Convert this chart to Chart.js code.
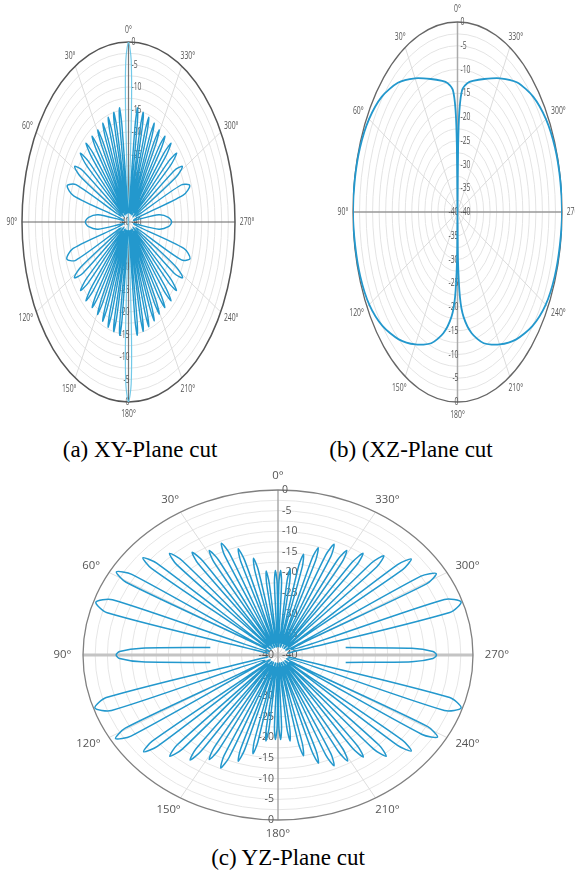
<!DOCTYPE html>
<html>
<head>
<meta charset="utf-8">
<script src="https://cdn.jsdelivr.net/npm/chart.js@4.4.1/dist/chart.umd.min.js"></script>
<style>
  html, body { margin: 0; padding: 0; background: #fff; }
  body { width: 575px; height: 877px; position: relative; overflow: hidden; }
  canvas { position: absolute; }
  .cap { position: absolute; font-family: "Liberation Serif", "Times New Roman", serif; font-size: 23px;
         color: #000; white-space: nowrap; transform: translateX(-50%); line-height: 1; }
</style>
</head>
<body>
<canvas id="xy" width="262" height="432" style="left:0;top:0"></canvas>
<canvas id="xz" width="285" height="432" style="left:290px;top:0"></canvas>
<canvas id="yz" width="540" height="380" style="left:20px;top:462px"></canvas>
<div class="cap" style="left:140px;top:438px">(a) XY-Plane cut</div>
<div class="cap" style="left:411px;top:438px">(b) (XZ-Plane cut</div>
<div class="cap" style="left:288px;top:846px">(c) YZ-Plane cut</div>
<script>
// ---- radial (dB) axis ----
const RING_MIN = -40, RING_MAX = 0, RING_STEP = 2.5;
const tickValues = [0, -5, -10, -15, -20, -25, -30, -35, -40];
const upperTickLabels = ['0', '-5', '-10', '-15', '-20', '-25', '-30', '-35', '-40'];
const lowerTickLabels = ['0', '-5', '-10', '-15', '-20', '-25', '-30', '-35', '-40'];

// ---- angular axis (degrees, counter-clockwise from the top) ----
const angleStops  = [0, 30, 60, 90, 120, 150, 180, 210, 240, 270, 300, 330];
const angleLabels = ['0°', '30°', '60°', '90°', '120°', '150°', '180°', '210°', '240°', '270°', '300°', '330°'];

// ---- (a) XY-plane: [angle deg, gain dB] ----
const xyMainBeam = [
  [356.5, -38], [357.4, -16], [358.4, -4], [0, 0], [1.6, -4], [2.6, -16], [3.5, -38],
  [176.5, -38], [177.4, -16], [178.4, -4], [180, 0], [181.6, -4], [182.6, -16], [183.5, -38]
];
const xyUpperLeft = [
  [4, -38],
  [6.6, -18], [7.6, -14.4], [8.6, -18], [10.2, -37],
  [11.8, -18.5], [12.8, -15], [13.8, -18.5], [15.5, -38],
  [17.1, -19], [18.2, -15.5], [19.3, -19], [21, -37],
  [22.7, -19.5], [23.8, -16], [24.9, -19.5], [26.6, -38],
  [28.3, -20], [29.5, -16.5], [30.7, -20], [32.6, -37],
  [34.4, -20], [35.7, -16.5], [37, -20], [39, -38],
  [41, -19.8], [42.4, -16.3], [43.8, -19.8], [46, -37],
  [48.2, -19.8], [49.8, -16.3], [51.4, -19.8], [54, -38],
  [56.4, -19.3], [58.6, -16.3], [60.8, -19.3], [64.5, -37],
  [67.2, -18.6], [70.7, -15.6], [74.2, -18.6], [77, -38],
  [82, -28.5], [86, -25], [90, -23.8], [94, -25], [98, -28.5], [103, -38]
];
const xyLowerLeft = [
  [105.8, -18.4], [109.5, -15.4], [113.2, -18.4], [116, -37],
  [119.2, -19.3], [121.4, -16.2], [123.6, -19.3], [126, -38],
  [128.6, -19.8], [130.2, -16.4], [131.8, -19.8], [134, -37],
  [136.2, -19.8], [137.6, -16.3], [139, -19.8], [141, -38],
  [143, -20], [144.3, -16.6], [145.6, -20], [147.4, -37],
  [149.3, -20], [150.5, -16.4], [151.7, -20], [153.4, -38],
  [155.1, -19.4], [156.2, -15.9], [157.3, -19.4], [159, -37],
  [160.7, -19], [161.8, -15.4], [162.9, -19], [164.5, -38],
  [166.2, -18.5], [167.2, -15], [168.2, -18.5], [169.8, -37],
  [171.6, -18], [172.6, -14.6], [173.6, -18], [176, -38]
];
const xyLowerRight = [
  [184, -38],
  [186.4, -18], [187.4, -14.6], [188.4, -18], [190.2, -37],
  [191.8, -18.5], [192.8, -15.1], [193.8, -18.5], [195.5, -38],
  [197.1, -19], [198.2, -15.5], [199.3, -19], [201, -37],
  [202.7, -19.5], [203.8, -16], [204.9, -19.5], [206.6, -38],
  [208.3, -20], [209.5, -16.5], [210.7, -20], [212.6, -37],
  [214.4, -20], [215.7, -16.6], [217, -20], [219, -38],
  [221, -19.8], [222.4, -16.3], [223.8, -19.8], [226, -37],
  [228.2, -19.8], [229.8, -16.4], [231.4, -19.8], [234, -38],
  [236.4, -19.3], [238.6, -16.2], [240.8, -19.3], [244.5, -37],
  [247, -18.4], [250.6, -15.5], [254.2, -18.4], [257, -38],
  [262, -28.5], [266, -25], [270, -23.8], [274, -25], [278, -28.5], [283, -38]
];
const xyUpperRight = [
  [286.2, -18.6], [289.4, -15.6], [292.6, -18.6], [295.5, -37],
  [299.2, -19.3], [301.4, -16.3], [303.6, -19.3], [306, -38],
  [308.6, -19.8], [310.2, -16.3], [311.8, -19.8], [314, -37],
  [316.2, -19.8], [317.6, -16.3], [319, -19.8], [321, -38],
  [323, -20], [324.3, -16.5], [325.6, -20], [327.4, -37],
  [329.3, -20], [330.5, -16.5], [331.7, -20], [333.4, -38],
  [335.1, -19.5], [336.2, -16], [337.3, -19.5], [339, -37],
  [340.7, -19], [341.8, -15.5], [342.9, -19], [344.5, -38],
  [346.2, -18.5], [347.2, -15], [348.2, -18.5], [349.8, -37],
  [351.4, -18], [352.4, -14.4], [353.4, -18], [356, -38]
];

// ---- (b) XZ-plane: [angle deg, gain dB] ----
const xzLeft = [
  [0, -40], [1, -26], [2, -18.5], [4, -14.2], [8, -12.6], [12, -11.8], [20, -10.2], [30, -7.5],
  [40, -4.5], [50, -2.2], [60, -0.9], [70, -0.3], [80, -0.1], [90, 0], [100, -0.2], [110, -0.4],
  [120, -1], [130, -2.6], [140, -5], [150, -7.8], [160, -10.6], [168, -13.9], [174, -17.8],
  [177, -22], [179, -30], [180, -40]
];
const xzRight = [
  [181, -30], [183, -22], [186, -17.8], [192, -13.9], [200, -10.6], [210, -7.8], [220, -5],
  [230, -2.6], [240, -1], [250, -0.4], [260, -0.2], [270, 0], [280, -0.1], [290, -0.3],
  [300, -0.9], [310, -2.2], [320, -4.4], [330, -7.5], [340, -10.2], [348, -11.8], [352, -12.6],
  [356, -14.2], [358, -18.5], [359, -26], [360, -40]
];

// ---- (c) YZ-plane: [angle deg, gain dB]; null = below the -40 dB floor, not plotted ----
const yzUpperLeft = [
  [0, -38],
  [0.6, -22.5], [1.5, -19.5], [2.4, -22.5], [4.2, -37],
  [5.9, -22.5], [6.8, -19.5], [7.7, -22.5], [9.4, -38],
  [11.1, -19], [12.1, -16], [13.1, -19], [14.8, -37],
  [16.6, -16], [17.6, -13], [18.6, -16], [20.4, -38],
  [22, -13.5], [23.2, -10.5], [24.4, -13.5], [26.1, -37],
  [27.9, -14], [29.1, -11], [30.3, -14], [32.2, -38],
  [34.1, -12.5], [35.3, -9.5], [36.5, -12.5], [38.7, -37],
  [40.7, -9.8], [42.1, -6.8], [43.5, -9.8], [45.8, -38],
  [48.2, -6.6], [49.6, -3.6], [51, -6.6], [54, -37],
  [56.9, -4.2], [58.7, -1.2], [60.5, -4.2], [64.5, -38],
  [68.5, -3.5], [71.1, -0.5], [73.7, -3.5], [78, -38], [80, null],
  [82.6, -26], [86.6, -12], [88.5, -7.5], [90, -6.8], [91.5, -7.5], [93.4, -12], [97.4, -26],
  [100, null], [102, -38]
];
const yzLowerLeft = [
  [106.3, -3.3], [108.9, -0.3], [111.5, -3.3], [115.5, -37],
  [119.5, -4], [121.3, -1], [123.1, -4], [126, -38],
  [129, -6.8], [130.4, -3.8], [131.8, -6.8], [134.2, -37],
  [136.5, -9.9], [137.9, -6.9], [139.3, -9.9], [141.3, -38],
  [143.5, -11.8], [144.7, -8.8], [145.9, -11.8], [147.8, -37],
  [149.7, -14], [150.9, -11], [152.1, -14], [153.9, -38],
  [155.6, -13.2], [156.8, -10.2], [158, -13.2], [159.6, -37],
  [161.4, -16], [162.4, -13], [163.4, -16], [165.2, -38],
  [166.9, -18.5], [167.9, -15.5], [168.9, -18.5], [170.6, -37],
  [172.3, -22], [173.2, -19], [174.1, -22], [175.8, -38],
  [177.6, -22.5], [178.5, -19.5], [179.4, -22.5], [180, -38]
];
const yzLowerRight = [
  [180.6, -22.5], [181.5, -19.5], [182.4, -22.5], [184.2, -37],
  [185.9, -22], [186.8, -19], [187.7, -22], [189.4, -38],
  [191.1, -18], [192.1, -15], [193.1, -18], [194.8, -37],
  [196.6, -15.5], [197.6, -12.5], [198.6, -15.5], [200.4, -38],
  [202, -13.8], [203.2, -10.8], [204.4, -13.8], [206.1, -37],
  [207.9, -13.6], [209.1, -10.6], [210.3, -13.6], [212.2, -38],
  [214.1, -12.7], [215.3, -9.7], [216.5, -12.7], [218.7, -37],
  [220.7, -9.9], [222.1, -6.9], [223.5, -9.9], [225.8, -38],
  [228.2, -7.1], [229.6, -4.1], [231, -7.1], [234, -37],
  [236.9, -4.7], [238.7, -1.7], [240.5, -4.7], [244.5, -38],
  [248.5, -3.3], [251.1, -0.3], [253.7, -3.3], [258, -38], [260, null],
  [262.6, -26], [266.6, -12.5], [268.5, -8.2], [270, -7.5], [271.5, -8.2], [273.4, -12.5], [277.4, -26],
  [280, null], [282, -38]
];
const yzUpperRight = [
  [286.3, -3.3], [288.9, -0.3], [291.5, -3.3], [295.5, -37],
  [299.5, -5], [301.3, -2], [303.1, -5], [306, -38],
  [309, -7.1], [310.4, -4.1], [311.8, -7.1], [314.2, -37],
  [316.5, -10.6], [317.9, -7.6], [319.3, -10.6], [321.3, -38],
  [323.5, -12.8], [324.7, -9.8], [325.9, -12.8], [327.8, -37],
  [329.7, -14], [330.9, -11], [332.1, -14], [333.9, -38],
  [335.6, -13.8], [336.8, -10.8], [338, -13.8], [339.6, -37],
  [341.4, -15.7], [342.4, -12.7], [343.4, -15.7], [345.2, -38],
  [346.9, -18], [347.9, -15], [348.9, -18], [350.6, -37],
  [352.3, -22], [353.2, -19], [354.1, -22], [355.8, -38],
  [357.6, -22.5], [358.5, -19.5], [359.4, -22.5], [360, -38]
];

// polar (angle, dB) -> unit-ellipse coordinates; the x/y scales stretch it to the plot box
function polarToXY(pairs) {
  return pairs.map(([deg, db]) => {
    if (db === null) return { x: null, y: null };
    const r = (db - RING_MIN) / (RING_MAX - RING_MIN);
    const t = deg * Math.PI / 180;
    return { x: -r * Math.sin(t), y: r * Math.cos(t) };
  });
}

function drawText(ctx, text, x, y, align, sx) {
  ctx.save();
  ctx.translate(x, y);
  ctx.scale(sx, 1);
  ctx.textAlign = align;
  ctx.textBaseline = 'middle';
  ctx.fillText(text, 0, 0);
  ctx.restore();
}

// elliptical polar frame: rings, spokes, axes, rim and labels
const polarFrame = {
  id: 'polarFrame',
  beforeDatasetsDraw(chart, _args, o) {
    const { ctx } = chart;
    const xs = chart.scales.x, ys = chart.scales.y;
    const cx = xs.getPixelForValue(0), cy = ys.getPixelForValue(0);
    const ax = xs.getPixelForValue(1) - cx, ay = cy - ys.getPixelForValue(1);
    const span = RING_MAX - RING_MIN;
    const frac = v => (v - RING_MIN) / span;
    ctx.save();

    ctx.lineWidth = 1;
    ctx.strokeStyle = o.ringColor;
    for (let v = RING_MIN + RING_STEP; v < RING_MAX - 0.01; v += RING_STEP) {
      ctx.beginPath();
      ctx.ellipse(cx, cy, ax * frac(v), ay * frac(v), 0, 0, Math.PI * 2);
      ctx.stroke();
    }

    ctx.strokeStyle = o.spokeColor;
    angleStops.forEach(deg => {
      if (deg % 90 === 0) return;
      const t = deg * Math.PI / 180;
      ctx.beginPath();
      ctx.moveTo(cx, cy);
      ctx.lineTo(cx - ax * Math.sin(t), cy - ay * Math.cos(t));
      ctx.stroke();
    });

    ctx.lineWidth = o.hAxisWidth;
    ctx.strokeStyle = o.hAxisColor;
    ctx.beginPath(); ctx.moveTo(cx - ax, cy); ctx.lineTo(cx + ax, cy); ctx.stroke();
    ctx.lineWidth = o.vAxisWidth;
    ctx.strokeStyle = o.vAxisColor;
    ctx.beginPath(); ctx.moveTo(cx, cy - ay); ctx.lineTo(cx, cy + ay); ctx.stroke();

    ctx.lineWidth = o.rimWidth;
    ctx.strokeStyle = o.rimColor;
    ctx.beginPath(); ctx.ellipse(cx, cy, ax, ay, 0, 0, Math.PI * 2); ctx.stroke();

    // angle labels
    ctx.fillStyle = o.textColor;
    ctx.font = o.angleFont;
    const h = o.angleSize * 0.75;
    angleStops.forEach((deg, i) => {
      const t = deg * Math.PI / 180;
      const ux = -Math.sin(t), uy = -Math.cos(t);
      const w = ctx.measureText(angleLabels[i]).width * o.textScale;
      const x = cx + ux * (ax * o.labelGap + w / 2);
      const y = cy + uy * (ay * o.labelGap + h / 2);
      drawText(ctx, angleLabels[i], x, y, 'center', o.textScale);
    });

    // dB labels along the vertical axis
    ctx.font = o.tickFont;
    tickValues.forEach((v, i) => {
      drawText(ctx, upperTickLabels[i], cx + o.upperTickDx, cy - ay * frac(v), 'left', o.tickScale);
      drawText(ctx, lowerTickLabels[i], cx + o.lowerTickDx, cy + ay * frac(v), 'right', o.tickScale);
    });
    ctx.restore();
  }
};

function polarChart(id, padding, datasets, frame) {
  return new Chart(document.getElementById(id), {
    type: 'scatter',
    data: { datasets },
    options: {
      responsive: false,
      animation: false,
      events: [],
      layout: { padding },
      scales: {
        x: { type: 'linear', min: -1, max: 1, display: false },
        y: { type: 'linear', min: -1, max: 1, display: false }
      },
      plugins: { legend: { display: false }, tooltip: { enabled: false }, polarFrame: frame }
    },
    plugins: [polarFrame]
  });
}

function trace(points, color, width, tension) {
  return { data: polarToXY(points), showLine: true, spanGaps: false, borderColor: color, borderWidth: width,
           pointRadius: 0, tension, fill: false };
}

const LOBE = '#2398cd';

polarChart('xy', { left: 22, right: 27, top: 42, bottom: 30 }, [
  trace([...xyUpperLeft, ...xyLowerLeft, ...xyLowerRight, ...xyUpperRight], LOBE, 1.4, 0.3),
  trace(xyMainBeam, '#72c9e8', 1.2, 0.3)
], {
  ringColor: '#e4e4e4', spokeColor: '#dcdcdc', hAxisColor: '#666', hAxisWidth: 1.2,
  vAxisColor: '#777', vAxisWidth: 1.2, rimColor: '#555', rimWidth: 1.5, textColor: '#555',
  angleFont: '11px "Open Sans"', angleSize: 11, textScale: 0.62, labelGap: 1.045,
  tickFont: '11px "Open Sans"', tickScale: 0.62, upperTickDx: 3, lowerTickDx: 1
});

polarChart('xz', { left: 63, right: 13, top: 22, bottom: 30 }, [
  trace([...xzLeft, ...xzRight], LOBE, 1.8, 0.25)
], {
  ringColor: '#e4e4e4', spokeColor: '#dcdcdc', hAxisColor: '#999', hAxisWidth: 1.5,
  vAxisColor: '#aaa', vAxisWidth: 1.5, rimColor: '#666', rimWidth: 1.3, textColor: '#555',
  angleFont: '11px "Open Sans"', angleSize: 11, textScale: 0.62, labelGap: 1.045,
  tickFont: '11px "Open Sans"', tickScale: 0.62, upperTickDx: 3, lowerTickDx: 1
});

polarChart('yz', { left: 63, right: 87, top: 28, bottom: 22 }, [
  trace([...yzUpperLeft, ...yzLowerLeft, ...yzLowerRight, ...yzUpperRight], LOBE, 1.5, 0.28)
], {
  ringColor: '#e6e6e6', spokeColor: '#dedede', hAxisColor: '#c4c4c4', hAxisWidth: 3,
  vAxisColor: '#aaa', vAxisWidth: 1.5, rimColor: '#808080', rimWidth: 1.3, textColor: '#555',
  angleFont: '10.5px "Open Sans"', angleSize: 10.5, textScale: 1.08, labelGap: 1.06,
  tickFont: '10.5px "Open Sans"', tickScale: 1.0, upperTickDx: 4, lowerTickDx: -4
});
</script>
</body>
</html>
